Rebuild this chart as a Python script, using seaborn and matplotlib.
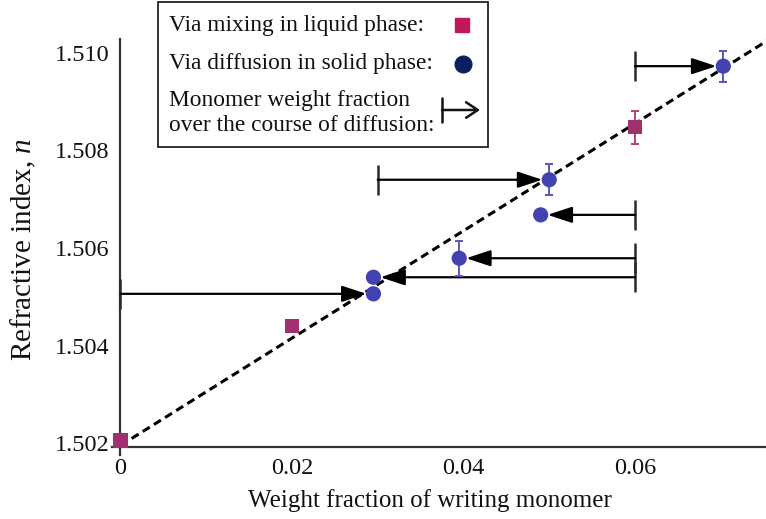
import matplotlib
matplotlib.use("Agg")
import matplotlib.pyplot as plt
import seaborn as sns
from matplotlib.patches import Rectangle, FancyArrowPatch, ArrowStyle
from matplotlib.lines import Line2D

# Samples prepared by mixing in the liquid phase
liq_w = [0.0, 0.02, 0.06]
liq_n = [1.50205, 1.50440, 1.50848]
liq_err = [0.00012, 0.0, 0.00034]

# Samples prepared by diffusion in the solid phase
dif_w = [0.0295, 0.0295, 0.0395, 0.049, 0.050, 0.0703]
dif_n = [1.50506, 1.50540, 1.50579, 1.50668, 1.50740, 1.50973]
dif_err = [0.00005, 0.00008, 0.00036, 0.0, 0.00032, 0.00032]
# monomer weight fraction at the start of diffusion
start_w = [0.0, 0.06, 0.06, 0.06, 0.03, 0.06]

# linear fit endpoints
fit_w = [0.0, 0.0755]
fit_n = [1.50195, 1.51026]

x_ticks = [0.0, 0.02, 0.04, 0.06]
x_tick_labels = ["0", "0.02", "0.04", "0.06"]
y_ticks = [1.502, 1.504, 1.506, 1.508, 1.510]
y_tick_labels = ["1.502", "1.504", "1.506", "1.508", "1.510"]

sns.set_theme(style="white")
plt.rcParams["font.family"] = ["Liberation Serif", "DejaVu Serif"]
plt.rcParams["mathtext.fontset"] = "custom"
plt.rcParams["mathtext.it"] = "Liberation Serif:italic"
plt.rcParams["mathtext.rm"] = "Liberation Serif"

W, H = 766, 519
fig = plt.figure(figsize=(W / 100, H / 100), dpi=100)
ax = fig.add_axes([112 / W, (H - 455) / H, (W - 112) / W, (455 - 39) / H])
ax.set_facecolor("none")

ax.set_xlim(-0.00099, 0.07528)
ax.set_ylim(1.501754, 1.510287)

axis_color = "#333333"
for side in ["top", "right"]:
    ax.spines[side].set_visible(False)
ax.spines["left"].set_position(("data", 0.0))
ax.spines["bottom"].set_position(("data", 1.501918))
for side in ["left", "bottom"]:
    ax.spines[side].set_color(axis_color)
    ax.spines[side].set_linewidth(1.6)

ax.set_xticks(x_ticks)
ax.set_xticklabels(x_tick_labels)
ax.set_yticks(y_ticks)
ax.set_yticklabels(y_tick_labels)
ax.tick_params(axis="both", direction="in", length=6.5, width=1.5,
               color=axis_color, labelsize=17.5, labelcolor="#111111")
ax.tick_params(axis="x", pad=8)
ax.tick_params(axis="y", pad=8)

ax.set_xlabel("Weight fraction of writing monomer", fontsize=18, color="#111111")
ax.xaxis.set_label_coords(0.486, -0.082)
ax.set_ylabel("Refractive index, $n$", fontsize=21, color="#111111")
ax.yaxis.set_label_coords(-0.113, 0.495)

# dashed linear fit
sns.lineplot(x=fit_w, y=fit_n, ax=ax, color="black", linewidth=2.2,
             linestyle=(0, (2.7, 1.6)), zorder=2)

# diffusion arrows: bar at the starting fraction, arrow to the measured point
arrow_style = ArrowStyle("-|>", head_length=1.0, head_width=0.33)
for w0, w1, n in zip(start_w, dif_w, dif_n):
    ax.plot([w0], [n], marker="|", markersize=21, markeredgewidth=1.8,
            color="#2a2a2a", zorder=3)
    ax.annotate("", xy=(w1, n), xytext=(w0, n),
                arrowprops=dict(arrowstyle=arrow_style, mutation_scale=15,
                                color="black", lw=1.6, shrinkA=0, shrinkB=5),
                zorder=3)

# error bars
ax.errorbar(liq_w, liq_n, yerr=liq_err, fmt="none", ecolor="#b0407f",
            elinewidth=1.4, capsize=3, capthick=1.4, zorder=4)
ax.errorbar(dif_w, dif_n, yerr=dif_err, fmt="none", ecolor="#5a55c8",
            elinewidth=1.4, capsize=3, capthick=1.4, zorder=4)

# data points
sns.scatterplot(x=liq_w, y=liq_n, ax=ax, marker="s", s=105, color="#a3306e",
                edgecolor="none", zorder=5, clip_on=False)
sns.scatterplot(x=dif_w, y=dif_n, ax=ax, marker="o", s=120, color="#4343b0",
                edgecolor="none", zorder=5, clip_on=False)


# key box drawn in figure pixel coordinates
def fx(px):
    return px / W


def fy(py):
    return 1 - py / H


fig.patches.append(Rectangle((fx(158), fy(147)), fx(488) - fx(158), fy(2) - fy(147),
                             transform=fig.transFigure, facecolor="white",
                             edgecolor="#222222", linewidth=1.3, zorder=10))
key_size = 16.8
fig.text(fx(169), fy(25), "Via mixing in liquid phase:", fontsize=key_size,
         va="center", ha="left", zorder=11, color="#111111")
fig.text(fx(169), fy(63), "Via diffusion in solid phase:", fontsize=key_size,
         va="center", ha="left", zorder=11, color="#111111")
fig.text(fx(169), fy(113), "Monomer weight fraction\nover the course of diffusion:",
         fontsize=key_size, va="center", ha="left", zorder=11, color="#111111",
         linespacing=1.3)
fig.add_artist(Line2D([fx(462)], [fy(25)], marker="s", markersize=10,
                      color="#c2185b", linestyle="none", transform=fig.transFigure,
                      zorder=11))
fig.add_artist(Line2D([fx(463)], [fy(64)], marker="o", markersize=12,
                      color="#0b1f5e", linestyle="none", transform=fig.transFigure,
                      zorder=11))
fig.add_artist(Line2D([fx(442), fx(442)], [fy(98), fy(122)], color="#111111",
                      linewidth=1.8, transform=fig.transFigure, zorder=11))
fig.add_artist(FancyArrowPatch((fx(442), fy(110)), (fx(480), fy(110)),
                               transform=fig.transFigure,
                               arrowstyle=ArrowStyle("->", head_length=0.6, head_width=0.4),
                               mutation_scale=14, color="#111111", lw=1.8,
                               shrinkA=0, shrinkB=0, zorder=11))

fig.savefig("out.png", dpi=100)
